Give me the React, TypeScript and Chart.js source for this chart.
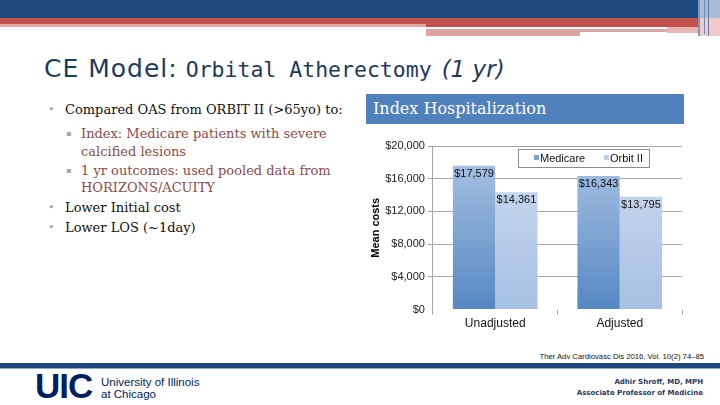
import React, { useEffect, useRef } from "react";
import { Chart, registerables } from "chart.js";

Chart.register(...registerables);

const categories = ["Unadjusted", "Adjusted"];
const seriesNames = ["Medicare", "Orbit II"];
const medicareCosts = [17579, 16343];
const orbitCosts = [14361, 13795];
const yTicks = [0, 4000, 8000, 12000, 16000, 20000];

const fmt = (v: number) => "$" + v.toLocaleString("en-US");

const labelPlugin = {
  id: "barLabels",
  afterDatasetsDraw(chart: any) {
    const ctx = chart.ctx;
    ctx.save();
    ctx.font = "11px 'Liberation Sans', Arial, sans-serif";
    ctx.fillStyle = "#111";
    ctx.textAlign = "center";
    ctx.textBaseline = "middle";
    chart.data.datasets.forEach((ds: any, i: number) => {
      const meta = chart.getDatasetMeta(i);
      meta.data.forEach((bar: any, j: number) => {
        ctx.fillText(fmt(ds.data[j]), bar.x, bar.y + 8);
      });
    });
    ctx.restore();
  },
  afterDraw(chart: any) {
    const ctx = chart.ctx;
    const a = chart.chartArea;
    const x = a.left + 85;
    const y = a.top + 3;
    ctx.save();
    ctx.fillStyle = "#ffffff";
    ctx.fillRect(x, y, 131, 18);
    ctx.strokeStyle = "#8c8c8c";
    ctx.lineWidth = 1;
    ctx.strokeRect(x + 0.5, y + 0.5, 131, 18);
    ctx.font = "11px 'Liberation Sans', Arial, sans-serif";
    ctx.textBaseline = "middle";
    ctx.textAlign = "left";
    const markers = ["#7f9fcf", "#bdd0ea"];
    const offs = [16, 86];
    seriesNames.forEach((n, i) => {
      ctx.fillStyle = markers[i];
      ctx.fillRect(x + offs[i], y + 6, 5, 5);
      ctx.fillStyle = "#111";
      ctx.fillText(n, x + offs[i] + 6, y + 9.5);
    });
    ctx.restore();
  },
};

function gradient(chart: any, top: string, bottom: string) {
  const a = chart.chartArea;
  if (!a) return bottom;
  const g = chart.ctx.createLinearGradient(0, a.top, 0, a.bottom);
  g.addColorStop(0, top);
  g.addColorStop(1, bottom);
  return g;
}

function CostChart() {
  const ref = useRef<HTMLCanvasElement>(null);
  useEffect(() => {
    if (!ref.current) return;
    const chart = new Chart(ref.current, {
      type: "bar",
      data: {
        labels: categories,
        datasets: [
          {
            label: seriesNames[0],
            data: medicareCosts,
            backgroundColor: (c: any) => gradient(c.chart, "#adc6e6", "#5587c2"),
            categoryPercentage: 0.68,
            barPercentage: 1,
          },
          {
            label: seriesNames[1],
            data: orbitCosts,
            backgroundColor: (c: any) => gradient(c.chart, "#cfdcf0", "#a6c0e3"),
            categoryPercentage: 0.68,
            barPercentage: 1,
          },
        ],
      },
      options: {
        responsive: false,
        animation: false,
        layout: { padding: { top: 18, right: 13, left: 4, bottom: 0 } },
        plugins: {
          legend: { display: false },
          tooltip: { enabled: false },
        },
        scales: {
          x: {
            offset: true,
            grid: { display: true, drawOnChartArea: false, drawTicks: true, tickLength: 5, offset: true, color: "#a0a0a0" },
            border: { display: false },
            ticks: { color: "#111", font: { family: "'Liberation Sans', Arial, sans-serif", size: 12 }, padding: 2 },
          },
          y: {
            min: 0,
            max: 20000,
            afterBuildTicks: (axis: any) => {
              axis.ticks = yTicks.map((v) => ({ value: v }));
            },
            grid: {
              color: (c: any) => (c.tick && c.tick.value === 0 ? "rgba(0,0,0,0)" : "#a6a6a6"),
              tickLength: 5,
            },
            border: { display: true, color: "#a6a6a6" },
            ticks: {
              color: "#222",
              font: { family: "'Liberation Sans', Arial, sans-serif", size: 11 },
              padding: 3,
              callback: (v: any) => fmt(Number(v)),
            },
            title: {
              display: true,
              text: "Mean costs",
              color: "#000",
              font: { family: "'Liberation Sans', Arial, sans-serif", size: 11, weight: "bold" },
              padding: { top: 0, bottom: 0 },
            },
          },
        },
      },
      plugins: [labelPlugin],
    } as any);
    return () => chart.destroy();
  }, []);
  return <canvas ref={ref} width={330} height={205} style={{ position: "absolute", left: 365, top: 128 }} />;
}

const serif = "'DejaVu Serif', serif";

export default function App() {
  const bullet = (top: number, text: string, level: number) => (
    <div
      style={{
        position: "absolute",
        left: level === 1 ? 48 : 66,
        top,
        fontFamily: serif,
        fontSize: 13,
        color: level === 1 ? "#111" : "#8b4b4b",
        whiteSpace: "nowrap",
        display: "flex",
      }}
    >
      <span style={{ width: level === 1 ? 17 : 15, color: "#a3a8a0", fontSize: level === 1 ? 11 : 8, lineHeight: "17px" }}>
        {level === 1 ? "•" : "▪"}
      </span>
      <span style={{ lineHeight: "17px" }}>{text}</span>
    </div>
  );
  const cont = (top: number, text: string) => (
    <div style={{ position: "absolute", left: 81, top, fontFamily: serif, fontSize: 13, color: "#8b4b4b", whiteSpace: "nowrap", lineHeight: "17px" }}>
      {text}
    </div>
  );
  return (
    <div style={{ position: "fixed", left: 0, top: 0, width: 720, height: 405, background: "#fff", overflow: "hidden" }}>
      {/* top bars */}
      <div style={{ position: "absolute", left: 0, top: 0, width: 720, height: 18, background: "#1f497d" }} />
      <div style={{ position: "absolute", left: 0, top: 18, width: 700, height: 7, background: "#c0504d" }} />
      <div style={{ position: "absolute", left: 0, top: 24, width: 426, height: 3, background: "#e0a8a7" }} />
      <div style={{ position: "absolute", left: 426, top: 25, width: 274, height: 2, background: "#c0504d" }} />
      <div style={{ position: "absolute", left: 426, top: 29, width: 241, height: 3, background: "#dba3a2" }} />
      <div style={{ position: "absolute", left: 426, top: 32, width: 154, height: 4, background: "#dba3a2" }} />
      <div style={{ position: "absolute", left: 667, top: 27, width: 33, height: 6, background: "#e7b5b4" }} />
      <div style={{ position: "absolute", left: 700, top: 0, width: 20, height: 18, background: "#a9bcd8" }} />
      <div style={{ position: "absolute", left: 700, top: 18, width: 20, height: 18, background: "#f0c9c8" }} />
      <div style={{ position: "absolute", left: 698, top: 0, width: 2, height: 36, background: "#7e97bd" }} />
      <div style={{ position: "absolute", left: 704, top: 0, width: 1, height: 34, background: "#6f8bb5" }} />
      <div style={{ position: "absolute", left: 708, top: 0, width: 1, height: 36, background: "#5a79a8" }} />

      {/* title */}
      <div style={{ position: "absolute", left: 44, top: 54, color: "#1e3a5c", whiteSpace: "nowrap", lineHeight: "30px" }}>
        <span style={{ fontFamily: "'DejaVu Sans', sans-serif", fontSize: 25, letterSpacing: 1 }}>CE Model:</span>
        <span style={{ fontFamily: "'DejaVu Sans Mono', monospace", fontSize: 21.5, marginLeft: 8 }}>Orbital Atherectomy</span>
        <span style={{ fontFamily: "'DejaVu Sans', sans-serif", fontStyle: "italic", fontSize: 23, marginLeft: 10 }}>(1 yr)</span>
      </div>

      {bullet(101, "Compared OAS from ORBIT II (>65yo) to:", 1)}
      {bullet(125, "Index: Medicare patients with severe", 2)}
      {cont(143, "calcified lesions")}
      {bullet(162, "1 yr outcomes: used pooled data from", 2)}
      {cont(179, "HORIZONS/ACUITY")}
      {bullet(199, "Lower Initial cost", 1)}
      {bullet(219, "Lower LOS (~1day)", 1)}

      {/* chart header */}
      <div style={{ position: "absolute", left: 366, top: 94, width: 318, height: 30, background: "#4f81bd" }} />
      <div style={{ position: "absolute", left: 373, top: 98, color: "#fff", fontFamily: serif, fontSize: 16, lineHeight: "22px", whiteSpace: "nowrap" }}>
        Index Hospitalization
      </div>

      <CostChart />

      {/* citation */}
      <div style={{ position: "absolute", right: 16, top: 352, fontFamily: "'Liberation Sans', Arial, sans-serif", fontSize: 7.7, color: "#111", whiteSpace: "nowrap" }}>
        Ther Adv Cardiovasc Dis 2016, Vol. 10(2) 74–85
      </div>

      {/* bottom rule */}
      <div style={{ position: "absolute", left: 0, top: 363, width: 720, height: 5, background: "#1f497d" }} />
      <div style={{ position: "absolute", left: 0, top: 368, width: 720, height: 1, background: "#8fa6c8" }} />

      {/* UIC logo */}
      <div style={{ position: "absolute", left: 35, top: 368, fontFamily: "'Liberation Sans', Arial, sans-serif", fontWeight: 900, fontSize: 35, color: "#001e62", letterSpacing: -1, lineHeight: "35px" }}>
        UIC
      </div>
      <div style={{ position: "absolute", left: 101, top: 376, fontFamily: "'Liberation Sans', Arial, sans-serif", fontSize: 11.5, color: "#001e62", lineHeight: "12px", whiteSpace: "nowrap" }}>
        University of Illinois
        <br />
        at Chicago
      </div>

      {/* presenter */}
      <div style={{ position: "absolute", right: 17, top: 377, textAlign: "right", fontFamily: "'DejaVu Sans', sans-serif", fontWeight: "bold", fontSize: 7, color: "#1f3864", lineHeight: "11px", whiteSpace: "nowrap" }}>
        Adhir Shroff, MD, MPH
        <br />
        Associate Professor of Medicine
      </div>
    </div>
  );
}
